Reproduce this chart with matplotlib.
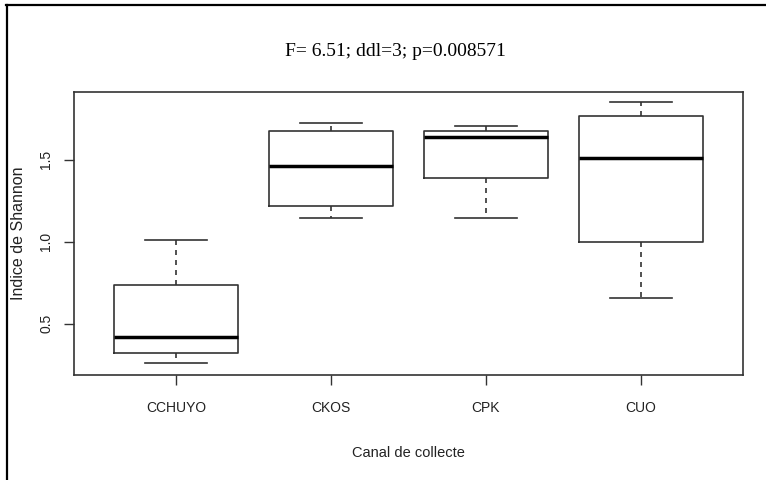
import matplotlib.pyplot as plt
from matplotlib.lines import Line2D

# Shannon index per collection channel (five-number summaries)
canaux = ['CCHUYO', 'CKOS', 'CPK', 'CUO']
whisker_lo = [0.257, 1.142, 1.145, 0.658]
q1 = [0.322, 1.216, 1.388, 1.000]
median = [0.419, 1.461, 1.640, 1.512]
q3 = [0.737, 1.678, 1.674, 1.765]
whisker_hi = [1.012, 1.725, 1.704, 1.850]

titre = 'F= 6.51; ddl=3; p=0.008571'
yticks = [0.5, 1.0, 1.5]

LINE = '#333333'


def main():
    fig = plt.figure(figsize=(7.66, 4.8), dpi=100)
    ax = fig.add_axes([74 / 766, 105 / 480, 669 / 766, 283 / 480])

    stats = []
    for i, c in enumerate(canaux):
        stats.append({
            'label': c,
            'whislo': whisker_lo[i], 'q1': q1[i], 'med': median[i],
            'q3': q3[i], 'whishi': whisker_hi[i], 'fliers': [],
        })

    ax.bxp(stats, positions=range(1, len(canaux) + 1), widths=0.8,
           capwidths=0.4, showfliers=False,
           boxprops=dict(color=LINE, linewidth=1.2),
           whiskerprops=dict(color=LINE, linewidth=1.2, linestyle=(0, (3, 3))),
           capprops=dict(color=LINE, linewidth=1.2),
           medianprops=dict(color='black', linewidth=2.5,
                            solid_capstyle='butt'))

    ax.set_xlim(0.34, 4.66)
    ax.set_ylim(0.186, 1.914)
    ax.set_yticks(yticks)
    ax.set_yticklabels([str(v) for v in yticks], rotation=90, va='center')
    ax.set_xticks(range(1, len(canaux) + 1))
    ax.set_xticklabels(canaux)

    for s in ax.spines.values():
        s.set_color(LINE)
        s.set_linewidth(1.2)
    ax.tick_params(colors=LINE, labelcolor='#222222', length=7, width=1,
                   labelsize=10)
    ax.tick_params(axis='x', pad=12)
    ax.tick_params(axis='y', pad=8)
    for t in ax.get_xticklabels() + ax.get_yticklabels():
        t.set_fontfamily('Liberation Sans')

    ax.set_xlabel('Canal de collecte', fontsize=10.5, family='Liberation Sans',
                  color='#222222', labelpad=22)
    fig.text(19 / 766, 1 - 233 / 480, 'Indice de Shannon', rotation=90,
             ha='center', va='center', fontsize=11.5,
             family='Liberation Sans', color='#222222')

    fig.text(395 / 766, 1 - 52 / 480, titre, ha='center', va='center',
             fontsize=14, family='Liberation Serif', color='black')

    # cropped outer frame: only the top and left edges show
    fig.add_artist(Line2D([6 / 766, 1], [1 - 5 / 480, 1 - 5 / 480],
                          transform=fig.transFigure, color='black', lw=1.6))
    fig.add_artist(Line2D([7 / 766, 7 / 766], [0, 1 - 5 / 480],
                          transform=fig.transFigure, color='black', lw=1.6))

    fig.savefig('out.png', dpi=100)


if __name__ == '__main__':
    main()
